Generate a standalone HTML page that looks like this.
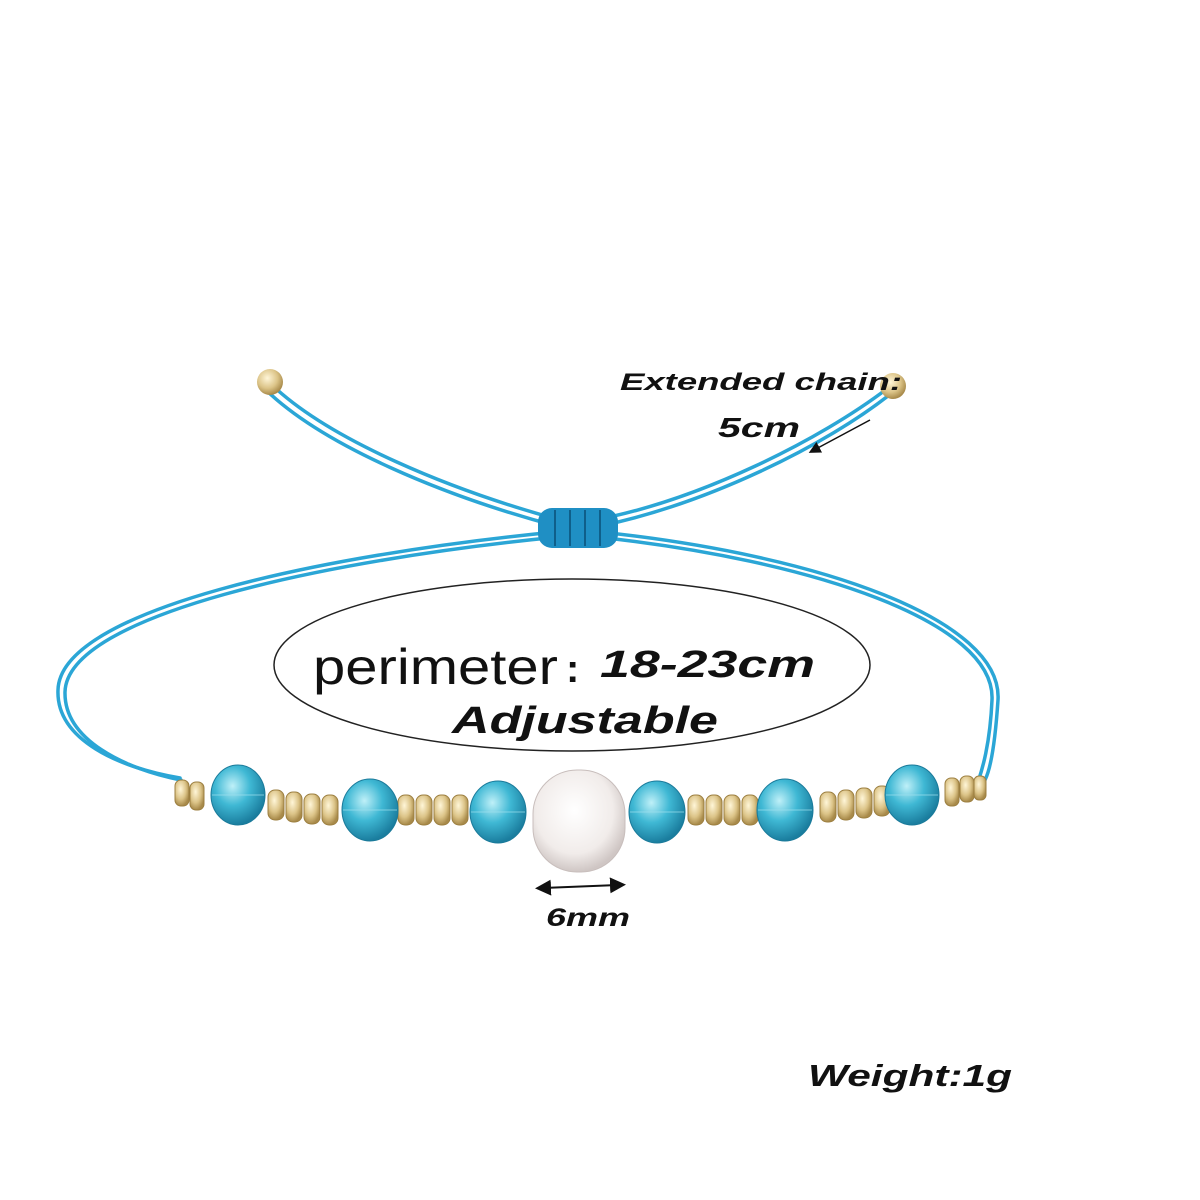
<!DOCTYPE html>
<html><head><meta charset="utf-8"><style>
html,body{margin:0;padding:0;background:#fff;}
svg{display:block;}
.bi{font-family:"Liberation Sans",sans-serif;font-weight:bold;font-style:italic;fill:#111;}
</style></head><body>
<svg width="1200" height="1200" viewBox="0 0 1200 1200" xmlns="http://www.w3.org/2000/svg">
<defs>
<radialGradient id="cr" cx="40%" cy="35%" r="65%">
<stop offset="0" stop-color="#bff0f8"/><stop offset="0.5" stop-color="#3fb8d4"/><stop offset="1" stop-color="#1a7d9e"/></radialGradient>
<radialGradient id="pe" cx="45%" cy="40%" r="60%">
<stop offset="0" stop-color="#ffffff"/><stop offset="0.7" stop-color="#f1ecea"/><stop offset="1" stop-color="#cfc6c4"/></radialGradient>
<radialGradient id="go" cx="40%" cy="35%" r="65%">
<stop offset="0" stop-color="#fff6d8"/><stop offset="0.6" stop-color="#dcc488"/><stop offset="1" stop-color="#a88a4a"/></radialGradient>
<marker id="ah" markerWidth="8" markerHeight="8" refX="4" refY="4" orient="auto-start-reverse"><path d="M0,0 L8,4 L0,8 z" fill="#111"/></marker>
</defs>
<g fill="none" stroke="#2ba6d6" stroke-width="3.5" stroke-linecap="round">
<path d="M272,385 C330,440 450,490 560,520"/>
<path d="M266,390 C324,446 444,496 556,526"/>
<path d="M888,388 C820,440 700,500 595,520"/>
<path d="M893,392 C826,446 706,504 600,526"/>
<path d="M555,532 C320,555 60,610 58,690 C56,740 120,768 180,778"/>
<path d="M558,537 C325,560 67,615 65,692 C64,740 125,769 181,780"/>
<path d="M600,532 C820,555 1003,620 998,700 C995,745 990,770 985,780"/>
<path d="M597,537 C812,560 996,622 992,700 C990,745 982,770 978,782"/>
</g>
<rect x="538" y="508" width="80" height="40" rx="14" fill="#1f8fc4"/>
<g stroke="#0f5f8a" stroke-width="2"><line x1="555" y1="510" x2="555" y2="546"/><line x1="570" y1="510" x2="570" y2="546"/><line x1="585" y1="510" x2="585" y2="546"/><line x1="600" y1="510" x2="600" y2="546"/></g>
<circle cx="270" cy="382" r="13" fill="url(#go)"/>
<circle cx="893" cy="386" r="13" fill="url(#go)"/>
<ellipse cx="572" cy="665" rx="298" ry="86" fill="none" stroke="#222" stroke-width="1.5"/>
<g fill="url(#go)" stroke="#9c7f40" stroke-width="1">
<rect x="175" y="780" width="14" height="26" rx="6"/><rect x="190" y="782" width="14" height="28" rx="6"/>
<rect x="268" y="790" width="16" height="30" rx="7"/><rect x="286" y="792" width="16" height="30" rx="7"/><rect x="304" y="794" width="16" height="30" rx="7"/><rect x="322" y="795" width="16" height="30" rx="7"/>
<rect x="398" y="795" width="16" height="30" rx="7"/><rect x="416" y="795" width="16" height="30" rx="7"/><rect x="434" y="795" width="16" height="30" rx="7"/><rect x="452" y="795" width="16" height="30" rx="7"/>
<rect x="688" y="795" width="16" height="30" rx="7"/><rect x="706" y="795" width="16" height="30" rx="7"/><rect x="724" y="795" width="16" height="30" rx="7"/><rect x="742" y="795" width="16" height="30" rx="7"/>
<rect x="820" y="792" width="16" height="30" rx="7"/><rect x="838" y="790" width="16" height="30" rx="7"/><rect x="856" y="788" width="16" height="30" rx="7"/><rect x="874" y="786" width="16" height="30" rx="7"/>
<rect x="945" y="778" width="14" height="28" rx="6"/><rect x="960" y="776" width="14" height="26" rx="6"/><rect x="974" y="776" width="12" height="24" rx="5"/>
</g>
<g fill="url(#cr)" stroke="#1a7a9a" stroke-width="1">
<ellipse cx="238" cy="795" rx="27" ry="30"/>
<ellipse cx="370" cy="810" rx="28" ry="31"/>
<ellipse cx="498" cy="812" rx="28" ry="31"/>
<ellipse cx="657" cy="812" rx="28" ry="31"/>
<ellipse cx="785" cy="810" rx="28" ry="31"/>
<ellipse cx="912" cy="795" rx="27" ry="30"/>
</g>
<g stroke="#9fe0ee" stroke-width="1" opacity="0.7">
<line x1="212" y1="795" x2="264" y2="795"/><line x1="343" y1="810" x2="397" y2="810"/><line x1="471" y1="812" x2="525" y2="812"/>
<line x1="630" y1="812" x2="684" y2="812"/><line x1="758" y1="810" x2="812" y2="810"/><line x1="886" y1="795" x2="938" y2="795"/>
</g>
<rect x="533" y="770" width="92" height="102" rx="44" fill="url(#pe)" stroke="#c8bebc" stroke-width="1"/>
<text class="bi" x="620" y="390" font-size="24" textLength="282" lengthAdjust="spacingAndGlyphs">Extended chain:</text>
<text class="bi" x="718" y="437" font-size="28" textLength="82" lengthAdjust="spacingAndGlyphs">5cm</text>
<line x1="870" y1="420" x2="814" y2="450" stroke="#111" stroke-width="1.5" marker-end="url(#ah)"/>
<text x="313" y="684" font-family="Liberation Sans,sans-serif" font-size="50" fill="#111" textLength="245" lengthAdjust="spacingAndGlyphs">perimeter</text>
<text x="566" y="682" font-family="Liberation Sans,sans-serif" font-weight="bold" font-size="40" fill="#111">:</text>
<text class="bi" x="600" y="677" font-size="38" textLength="215" lengthAdjust="spacingAndGlyphs">18-23cm</text>
<text class="bi" x="452" y="733" font-size="38" textLength="266" lengthAdjust="spacingAndGlyphs">Adjustable</text>
<line x1="543" y1="888" x2="618" y2="885" stroke="#111" stroke-width="2" marker-start="url(#ah)" marker-end="url(#ah)"/>
<text class="bi" x="546" y="926" font-size="25" textLength="84" lengthAdjust="spacingAndGlyphs">6mm</text>
<text class="bi" x="808" y="1086" font-size="31" textLength="204" lengthAdjust="spacingAndGlyphs">Weight:1g</text>
</svg>
</body></html>
